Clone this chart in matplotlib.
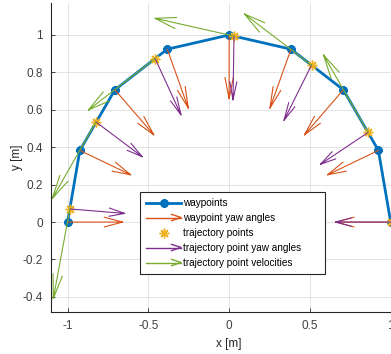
import numpy as np
import matplotlib.pyplot as plt
from matplotlib.lines import Line2D
from matplotlib.legend_handler import HandlerBase

plt.rcParams['font.family'] = ['Liberation Sans', 'DejaVu Sans']
plt.rcParams['font.size'] = 8

# waypoints on the half circle
wp_x = [-1, -0.924, -0.707, -0.383, 0, 0.383, 0.707, 0.924, 1]
wp_y = [0, 0.383, 0.707, 0.924, 1, 0.924, 0.707, 0.383, 0]
wp_yaw = [0, -22.5, -45, -67.5, -90, -112.5, -135, -157.5, -180]  # deg

# sampled trajectory
tp_x = [-0.986, -0.824, -0.458, 0.03, 0.51, 0.86, 1.0]
tp_y = [0.07, 0.535, 0.874, 0.994, 0.839, 0.479, 0.0]
tp_yaw = [-4, -33, -62, -91, -120, -150, -180]  # deg
tp_vx = [-0.102, -0.27, -0.413, -0.488, -0.415, -0.276, 0.0]
tp_vy = [-0.478, -0.408, -0.275, 0.095, 0.273, 0.414, 0.0]

yaw_len = 0.34

c_blue = '#0072BD'
c_orange = '#D95319'
c_yellow = '#EDB120'
c_purple = '#7E2F8E'
c_green = '#77AC30'


def arrows(x, y, u, v, alpha, beta=0.23):
    # matlab quiver style: shaft + open head, segments split by nan
    xs, ys = [], []
    for xi, yi, ui, vi in zip(x, y, u, v):
        xs += [xi, xi + ui, np.nan,
               xi + ui - alpha * (ui + beta * vi), xi + ui, xi + ui - alpha * (ui - beta * vi), np.nan]
        ys += [yi, yi + vi, np.nan,
               yi + vi - alpha * (vi - beta * ui), yi + vi, yi + vi - alpha * (vi + beta * ui), np.nan]
    return xs, ys


class HandlerArrow(HandlerBase):
    def create_artists(self, legend, orig, xd, yd, w, h, fontsize, trans):
        y = h / 2 - yd
        x0, x1 = -xd, w - xd
        c = orig.get_color()
        hl, hw = 0.27 * w, 0.09 * w
        shaft = Line2D([x0, x1], [y, y], color=c, lw=1, transform=trans)
        head = Line2D([x1 - hl, x1, x1 - hl], [y + hw, y, y - hw], color=c, lw=1, transform=trans)
        return [shaft, head]


fig = plt.figure(figsize=(3.91, 3.54), dpi=100)
ax = fig.add_axes([0.1315, 0.119, 0.909, 0.872])

ax.plot(wp_x, wp_y, '-', color=c_blue, lw=2, marker=(8, 2, 0), ms=6, mew=2)

yr = np.radians(wp_yaw)
ax_, ay_ = arrows(wp_x, wp_y, yaw_len * np.cos(yr), yaw_len * np.sin(yr), 0.33)
ax.plot(ax_, ay_, color=c_orange, lw=0.8)

ax.plot(tp_x, tp_y, ls='none', color=c_yellow, marker=(8, 2, 0), ms=7, mew=1)

tr = np.radians(tp_yaw)
px, py = arrows(tp_x, tp_y, yaw_len * np.cos(tr), yaw_len * np.sin(tr), 0.28)
ax.plot(px, py, color=c_purple, lw=0.8)

gx, gy = arrows(tp_x, tp_y, tp_vx, tp_vy, 0.26)
ax.plot(gx, gy, color=c_green, lw=0.8)

ax.set_xlim(-1.1, 1.1)
ax.set_ylim(-0.48, 1.17)
ax.set_xticks([-1, -0.5, 0, 0.5, 1])
ax.set_xticklabels(['-1', '-0.5', '0', '0.5', '1'])
ax.set_yticks([-0.4, -0.2, 0, 0.2, 0.4, 0.6, 0.8, 1])
ax.set_yticklabels(['-0.4', '-0.2', '0', '0.2', '0.4', '0.6', '0.8', '1'])
ax.grid(True, color='#DFDFDF', lw=0.6)
ax.set_axisbelow(True)
for s in ['top', 'right']:
    ax.spines[s].set_visible(False)
for s in ['left', 'bottom']:
    ax.spines[s].set_color('#262626')
    ax.spines[s].set_linewidth(0.8)
ax.tick_params(direction='in', length=3, width=0.6, colors='#262626', labelsize=8.5, pad=6)
ax.tick_params(labelcolor='#404040')
ax.set_xlabel('x [m]', fontsize=8.5, color='#262626', labelpad=4)
ax.set_ylabel('y [m]', fontsize=8.5, color='#262626')
ax.yaxis.set_label_coords(-0.08, 0.5)

h_wp = Line2D([], [], color=c_blue, lw=2, marker=(8, 2, 0), ms=6, mew=2)
h_wy = Line2D([], [], color=c_orange)
h_tp = Line2D([], [], ls='none', color=c_yellow, marker=(8, 2, 0), ms=7, mew=1)
h_ty = Line2D([], [], color=c_purple)
h_tv = Line2D([], [], color=c_green)
leg = fig.legend([h_wp, h_wy, h_tp, h_ty, h_tv],
                 ['waypoints', 'waypoint yaw angles', 'trajectory points',
                  'trajectory point yaw angles', 'trajectory point velocities'],
                 handler_map={h_wy: HandlerArrow(), h_ty: HandlerArrow(), h_tv: HandlerArrow()},
                 loc='upper left', mode='expand',
                 bbox_to_anchor=(140 / 391, 1 - 273 / 354, 185 / 391, 81 / 354),
                 fontsize=7.2, handlelength=3.5, handletextpad=0.2, labelspacing=0.5,
                 borderpad=0.6, borderaxespad=0, fancybox=False, framealpha=1,
                 edgecolor='#262626')
leg.get_frame().set_linewidth(0.8)

fig.savefig('out.png', dpi=100)
